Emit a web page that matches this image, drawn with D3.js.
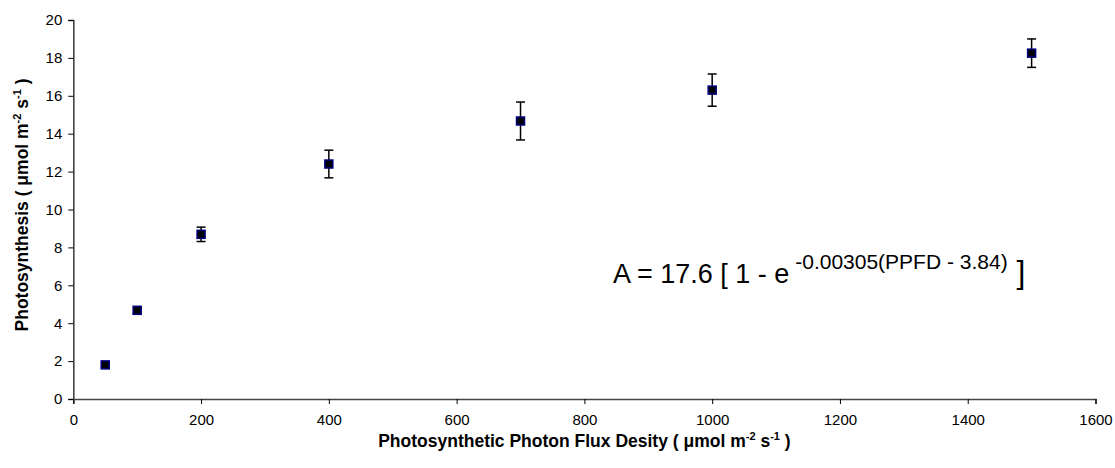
<!DOCTYPE html>
<html lang="en">
<head>
<meta charset="UTF-8" />
<title>Photosynthesis vs PPFD</title>
<script src="https://d3js.org/d3.v7.min.js"></script>
<style>
  body { margin: 0; background: #fff; }
  text { font-family: "Liberation Sans", Arial, sans-serif; }
</style>
</head>
<body>
<svg width="1115" height="468"></svg>
<script>
// data
const ppfd = [50, 100, 200, 400, 700, 1000, 1500];
const photo = [1.8, 4.68, 8.69, 12.4, 14.67, 16.3, 18.25];
const err = [0.1, 0.15, 0.38, 0.73, 1.0, 0.85, 0.75];
const xTicks = [0, 200, 400, 600, 800, 1000, 1200, 1400, 1600];
const yTicks = [0, 2, 4, 6, 8, 10, 12, 14, 16, 18, 20];

const svg = d3.select("svg");

const x = d3.scaleLinear().domain([0, 1600]).range([73.3, 1095.5]);
const y = d3.scaleLinear().domain([0, 20]).range([399, 20]);

// axes
const xAxis = svg.append("g")
  .attr("transform", `translate(0,${y(0)})`)
  .call(d3.axisBottom(x).tickValues(xTicks).tickSize(5).tickPadding(10).tickFormat(d3.format("d")));
const yAxis = svg.append("g")
  .attr("transform", `translate(${x(0)},0)`)
  .call(d3.axisLeft(y).tickValues(yTicks).tickSize(5).tickPadding(6).tickFormat(d3.format("d")));

[xAxis, yAxis].forEach(a => {
  a.select(".domain").attr("stroke", "#444").attr("stroke-width", 1.6);
  a.selectAll(".tick line").attr("stroke", "#000");
  a.selectAll(".tick text").attr("font-size", 15).attr("fill", "#000")
    .style("font-family", '"Liberation Sans", Arial, sans-serif');
});

// error bars
const eb = svg.append("g").attr("stroke", "#000").attr("stroke-width", 1.5);
ppfd.forEach((p, i) => {
  const cx = x(p);
  eb.append("line").attr("x1", cx).attr("x2", cx).attr("y1", y(photo[i] + err[i])).attr("y2", y(photo[i] - err[i]));
  [photo[i] + err[i], photo[i] - err[i]].forEach(v => {
    eb.append("line").attr("x1", cx - 4.5).attr("x2", cx + 4.5).attr("y1", y(v)).attr("y2", y(v));
  });
});

// markers
svg.append("g").selectAll("rect")
  .data(ppfd)
  .join("rect")
  .attr("x", (d) => x(d) - 4)
  .attr("y", (d, i) => y(photo[i]) - 4)
  .attr("width", 8)
  .attr("height", 8)
  .attr("fill", "#000")
  .attr("stroke", "#000080")
  .attr("stroke-width", 1.5);

// axis titles
const xt = svg.append("text")
  .attr("x", (x(0) + x(1600)) / 2)
  .attr("y", 447)
  .attr("text-anchor", "middle")
  .attr("font-size", 17.5)
  .attr("font-weight", "bold");
xt.append("tspan").text("Photosynthetic Photon Flux Desity ( \u03bcmol m");
xt.append("tspan").attr("font-size", 11).attr("dy", -7).text("-2");
xt.append("tspan").attr("dy", 7).text(" s");
xt.append("tspan").attr("font-size", 11).attr("dy", -7).text("-1");
xt.append("tspan").attr("dy", 7).text(" )");

const yt = svg.append("text")
  .attr("transform", "translate(28,205) rotate(-90)")
  .attr("text-anchor", "middle")
  .attr("font-size", 17.5)
  .attr("font-weight", "bold");
yt.append("tspan").text("Photosynthesis ( \u03bcmol m");
yt.append("tspan").attr("font-size", 11).attr("dy", -7).text("-2");
yt.append("tspan").attr("dy", 7).text(" s");
yt.append("tspan").attr("font-size", 11).attr("dy", -7).text("-1");
yt.append("tspan").attr("dy", 7).text(" )");

// equation
const eq = svg.append("text")
  .attr("x", 613)
  .attr("y", 283)
  .attr("font-size", 27);
eq.append("tspan").text("A = 17.6 [ 1 - e");
eq.append("tspan").attr("font-size", 21).attr("dy", -14).text(" -0.00305(PPFD - 3.84)");
eq.append("tspan").attr("dy", 14).attr("font-size", 32).text(" ]");
</script>
</body>
</html>
